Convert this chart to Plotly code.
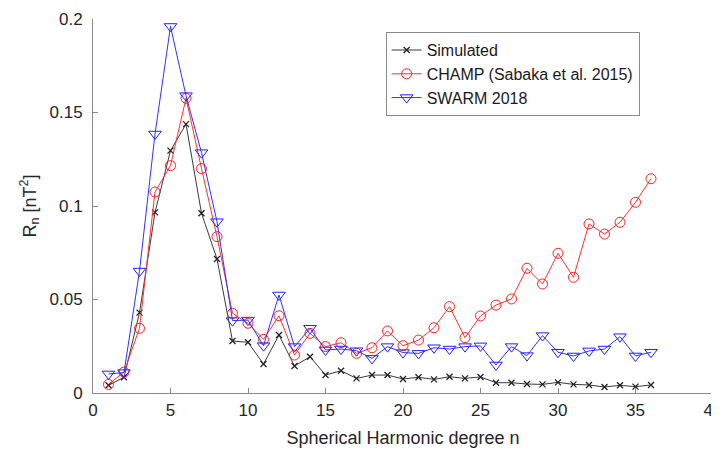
import plotly.graph_objects as go

n = list(range(1, 37))
simulated = [0.0041, 0.0084, 0.0430, 0.0966, 0.1296, 0.1438, 0.0961, 0.0717, 0.0278, 0.0271,
             0.0155, 0.0310, 0.0144, 0.0194, 0.0096, 0.0119, 0.0078, 0.0096, 0.0096, 0.0075,
             0.0084, 0.0073, 0.0087, 0.0078, 0.0086, 0.0055, 0.0055, 0.0048, 0.0046, 0.0057,
             0.0046, 0.0043, 0.0032, 0.0041, 0.0034, 0.0043]
champ = [0.0046, 0.0112, 0.0346, 0.1075, 0.1216, 0.1576, 0.1200, 0.0836, 0.0426, 0.0373,
         0.0287, 0.0413, 0.0203, 0.0319, 0.0248, 0.0269, 0.0212, 0.0242, 0.0332, 0.0253,
         0.0283, 0.0349, 0.0462, 0.0296, 0.0412, 0.0470, 0.0503, 0.0667, 0.0583, 0.0747,
         0.0619, 0.0904, 0.0850, 0.0913, 0.1020, 0.1146]
swarm = [0.0102, 0.0109, 0.0652, 0.1385, 0.1960, 0.1590, 0.1285, 0.0916, 0.0387, 0.0390,
         0.0253, 0.0524, 0.0248, 0.0346, 0.0230, 0.0235, 0.0226, 0.0185, 0.0248, 0.0216,
         0.0212, 0.0242, 0.0235, 0.0248, 0.0252, 0.0150, 0.0248, 0.0200, 0.0307, 0.0218,
         0.0198, 0.0225, 0.0235, 0.0301, 0.0198, 0.0218]

x_ticks = [0, 5, 10, 15, 20, 25, 30, 35, 40]
y_ticks = [0, 0.05, 0.1, 0.15, 0.2]
y_tick_labels = ["0", "0.05", "0.1", "0.15", "0.2"]

font_family = "Liberation Sans, Arial, sans-serif"

fig = go.Figure()
fig.add_trace(go.Scatter(
    x=n, y=simulated, mode="lines+markers", name="Simulated",
    line=dict(color="#3a3a3a", width=1),
    marker=dict(symbol="x-thin-open", size=6, color="#222222", line=dict(width=1.3, color="#222222")),
))
fig.add_trace(go.Scatter(
    x=n, y=champ, mode="lines+markers", name="CHAMP (Sabaka et al. 2015)",
    line=dict(color="#ff3030", width=1),
    marker=dict(symbol="circle-open", size=10, color="#ff2020", line=dict(width=1)),
))
fig.add_trace(go.Scatter(
    x=n, y=swarm, mode="lines+markers", name="SWARM 2018",
    line=dict(color="#3030ff", width=1),
    marker=dict(symbol="triangle-down-open", size=11, color="#2020ff", line=dict(width=1)),
))

axis_common = dict(
    showline=True, linecolor="#8a8a8a", linewidth=1,
    ticks="inside", ticklen=5, tickcolor="#8a8a8a", tickwidth=1,
    showgrid=False, zeroline=False, mirror=False, automargin=False,
    ticklabeloverflow="allow",
    tickfont=dict(size=17, color="#262626", family=font_family),
)

# page body adds an 8px offset, so the figure is sized to the remaining window
fig.update_layout(
    width=711, height=443,
    margin=dict(l=85, r=6, t=11, b=58),
    plot_bgcolor="white", paper_bgcolor="white",
    font=dict(family=font_family, color="#262626"),
    xaxis=dict(range=[0, 40], tickvals=x_ticks, ticklabelstandoff=2,
               title=dict(text="Spherical Harmonic degree n", font=dict(size=18), standoff=11),
               **axis_common),
    yaxis=dict(range=[0, 0.2], tickvals=y_ticks, ticktext=y_tick_labels, ticklabelstandoff=6,
               title=dict(text="R<sub>n</sub> [nT<sup>2</sup>]", font=dict(size=18), standoff=8),
               **axis_common),
    legend=dict(x=0.472, y=0.965, xanchor="left", yanchor="top",
                bordercolor="#8a8a8a", borderwidth=1, bgcolor="white",
                font=dict(size=16, color="#1a1a1a"), tracegroupgap=0,
                itemwidth=30),
    showlegend=True,
)

fig.write_html("out.html")
